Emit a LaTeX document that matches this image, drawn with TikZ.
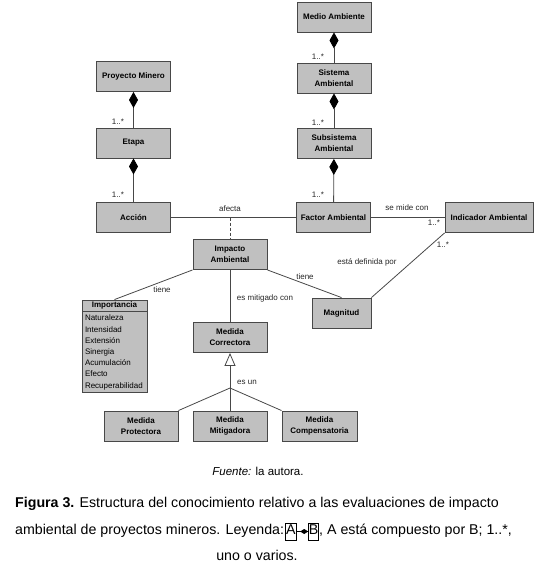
\documentclass[tikz,border=0pt]{standalone}
\usepackage{fontspec}
\setmainfont{Liberation Sans}
\usetikzlibrary{arrows.meta,positioning}
\definecolor{boxgray}{RGB}{192,192,192}
\definecolor{linegray}{RGB}{72,72,72}
\begin{document}
\begin{tikzpicture}[x=1pt,y=-1pt]
\tikzstyle{every node}+=[inner sep=0pt]
\tikzstyle{cls}=[draw=linegray, fill=boxgray, line width=0.9pt, minimum height=30pt, minimum width=74pt, align=center, font=\fontsize{8}{11}\selectfont\bfseries]
\tikzstyle{lbl}=[font=\fontsize{8}{10}\selectfont, text=black!85]
\tikzstyle{link}=[draw=linegray, line width=0.8pt]
\tikzstyle{comp}=[link, -{Diamond[length=16pt,width=9pt,black]}]
\tikzstyle{gen}=[link, -{Triangle[open,length=13pt,width=11pt]}]
\tikzstyle{captext}=[font=\fontsize{14.2}{17}\selectfont]
\tikzstyle{legbox}=[draw, line width=0.6pt, inner xsep=0.4pt, inner ysep=0.6pt, text height=10.5pt, text depth=5.5pt, font=\fontsize{14.2}{17}\selectfont]
\useasboundingbox (0,0) rectangle (537,574);
\node[cls] (med) at (334,17) {Medio Ambiente};
\node[cls] (sis) at (334,78) {Sistema\\Ambiental};
\node[cls] (sub) at (334,143.5) {Subsistema\\Ambiental};
\node[cls] (fac) at (333.5,217.5) {Factor Ambiental};
\node[cls, minimum width=88pt] (ind) at (489,217.5) {Indicador Ambiental};
\node[cls] (pro) at (133.5,76.5) {Proyecto Minero};
\node[cls] (eta) at (133.5,143) {Etapa};
\node[cls] (acc) at (133.5,217.5) {Acción};
\node[cls] (imp) at (230,254.5) {Impacto\\Ambiental};
\node[cls, minimum width=59pt] (mag) at (341.5,313) {Magnitud};
\node[cls] (cor) at (230,337.5) {Medida\\Correctora};
\node[cls] (prt) at (141,426) {Medida\\Protectora};
\node[cls] (mit) at (230,426) {Medida\\Mitigadora};
\node[cls, minimum width=75pt] (cmp) at (319.5,426) {Medida\\Compensatoria};
\node[cls, minimum width=65pt, minimum height=11pt] (impo) at (114.5,305.5) {Importancia};
\node[draw=linegray, fill=boxgray, line width=0.9pt, minimum width=65pt, minimum height=81pt, anchor=north, inner xsep=3pt, inner ysep=2pt, align=left, text width=59pt, font=\fontsize{8}{11.2}\selectfont, below=0pt of impo] (attr) {Naturaleza\\Intensidad\\Extensión\\Sinergia\\Acumulación\\Efecto\\Recuperabilidad};
\coordinate (afe) at (230,217.5);
\coordinate (jun) at (230,388);
\draw[comp] (sis) -- (med);
\draw[comp] (sub) -- (sis);
\draw[comp] (fac) -- (sub);
\draw[comp] (eta) -- (pro);
\draw[comp] (acc) -- (eta);
\draw[link] (acc) -- (fac);
\draw[link] (fac) -- (ind);
\draw[link, dashed, dash pattern=on 3pt off 2pt] (afe) -- (imp);
\draw[link] (imp.south west) -- (impo.north);
\draw[link] (imp.south east) -- (mag.north);
\draw[link] (mag.north east) -- (ind.south west);
\draw[link] (imp) -- (cor);
\draw[gen] (jun) -- (cor);
\draw[link] (jun) -- (prt.north east);
\draw[link] (jun) -- (mit);
\draw[link] (jun) -- (cmp.north west);
\node[lbl] at (318,57) {1..*};
\node[lbl] at (318,123) {1..*};
\node[lbl] at (318,195) {1..*};
\node[lbl] at (118,122) {1..*};
\node[lbl] at (118,195) {1..*};
\node[lbl] at (434,223) {1..*};
\node[lbl] at (443,245) {1..*};
\node[lbl] at (230,209) {afecta};
\node[lbl] at (407,208) {se mide con};
\node[lbl] at (367,262) {está definida por};
\node[lbl] at (305,277) {tiene};
\node[lbl] at (162,290) {tiene};
\node[lbl] at (265,298) {es mitigado con};
\node[lbl] at (247,382) {es un};
\node[font=\fontsize{11.5}{14}\selectfont, anchor=base] (fte) at (258,475) {\textit{Fuente:} la autora.};
\node[captext, anchor=base] (fig1) at (257,507) {\textbf{Figura 3.} Estructura del conocimiento relativo a las evaluaciones de impacto};
\node[captext, anchor=base west] (fig2) at (15,534) {ambiental de proyectos mineros. Leyenda:\ };
\node[legbox, anchor=base west, xshift=1pt] (legA) at (fig2.base east) {A};
\node[legbox, anchor=base west, xshift=12pt] (legB) at (legA.base east) {B};
\draw[line width=0.8pt, -{Diamond[length=8pt,width=5pt]}] (legA) -- (legB);
\node[captext, anchor=base west] (fig2b) at (legB.base east) {, A está compuesto por B; 1..*,};
\node[captext, anchor=base] (fig3) at (257,560) {uno o varios.};
\end{tikzpicture}
\end{document}
